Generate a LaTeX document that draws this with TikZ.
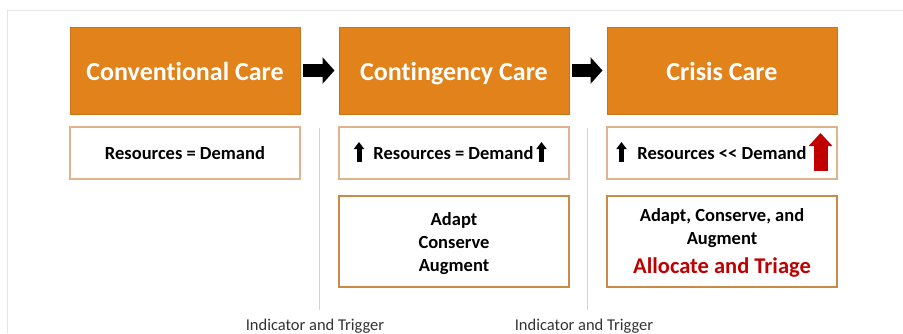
\documentclass[tikz,border=0pt]{standalone}
\usepackage{fontspec}
\setmainfont{Carlito}[Ligatures=NoCommon]
\usetikzlibrary{arrows.meta}
\usetikzlibrary{positioning}
\definecolor{careorange}{HTML}{E2821A}
\definecolor{careedge}{HTML}{C9741A}
\definecolor{tanedge}{HTML}{DDB48C}
\definecolor{boxedge}{HTML}{C98A45}
\definecolor{triggerline}{HTML}{F6CBA4}
\definecolor{frameline}{HTML}{E4E4E4}
\definecolor{alarmred}{HTML}{C00000}

\begin{document}
\begin{tikzpicture}[x=1pt,y=-1pt,
  stage/.style={draw=careedge, fill=careorange, line width=1pt, minimum width=230pt, minimum height=87pt,
    inner sep=0pt, text height=19pt, text depth=0pt, text=white, font=\fontsize{26}{30}\selectfont\bfseries},
  balance/.style={draw=tanedge, line width=1.4pt, fill=white, minimum width=230pt, minimum height=52pt, inner sep=0pt},
  actions/.style={draw=boxedge, line width=1.1pt, fill=white, minimum width=230pt, minimum height=91pt, inner sep=0pt},
  boxtext/.style={font=\fontsize{18.5}{23}\selectfont\bfseries, align=center, inner sep=0pt},
  flow/.style={line width=13pt, black, shorten <=2pt, shorten >=4pt, -{Triangle[width=26pt,length=12pt]}},
  thickup/.style={line width=5pt, black, -{Triangle[width=10pt,length=7pt]}},
  trigger/.style={font=\fontsize{16.5}{19}\selectfont, text=black!80, inner sep=0pt, anchor=base}
]
\useasboundingbox (0,0) rectangle (903,333);
% page frame
\draw[frameline, line width=1pt] (7,333) -- (7,10) -- (903,10);

% top row
\node[stage] (conv) at (185,70.5) {Conventional Care};
\node[stage] (cont) at (454,70.5) {Contingency Care};
\node[stage] (crisis) at (722,70.5) {Crisis Care};

\draw[flow] (conv) -- (cont);
\draw[flow] (cont) -- (crisis);

% resources vs demand
\node[balance] (bal1) at (185,153) {};
\node[balance] (bal2) at (454,153) {};
\node[balance] (bal3) at (722,153) {};

\node[boxtext] (res1) at (185,153.5) {Resources = Demand};
\node[boxtext] (res2) at (453.5,153.5) {Resources = Demand};
\node[boxtext] (res3) at (722,153.5) {Resources <\kern0pt< Demand};

\coordinate (up2a-s) at (359,162);   \coordinate (up2a-e) at (359,142);
\coordinate (up2b-s) at (541.5,162); \coordinate (up2b-e) at (541.5,142);
\coordinate (up3a-s) at (621.5,162); \coordinate (up3a-e) at (621.5,142);
\coordinate (up3b-s) at (820.5,171); \coordinate (up3b-e) at (820.5,133);
\draw[thickup] (up2a-s) -- (up2a-e);
\draw[thickup] (up2b-s) -- (up2b-e);
\draw[thickup] (up3a-s) -- (up3a-e);
\draw[thickup, alarmred, line width=14pt, -{Triangle[width=23pt,length=13pt]}] (up3b-s) -- (up3b-e);

% strategies
\node[actions] (act2) at (454,241.5) {};
\node[actions] (act3) at (722,241.5) {};
\node[boxtext] (adapt2) at (454,243.5) {Adapt\\Conserve\\Augment};
\node[boxtext] (adapt3) at (722,228) {Adapt, Conserve, and\\Augment};
\node[boxtext, text=alarmred, font=\fontsize{22.5}{26}\selectfont\bfseries] (triage) at (722,267.5) {Allocate and Triage};

% triggers
\coordinate (trig1top) at (319,128);
\coordinate (trig1bot) at (319,310);
\coordinate (trig2top) at (587,128);
\coordinate (trig2bot) at (587,310);
\draw[triggerline, line width=1pt] (trig1top) -- (trig1bot);
\draw[triggerline, line width=1pt] (trig2top) -- (trig2bot);
\node[trigger] (ind1) at (315,330) {Indicator and Trigger};
\node[trigger] (ind2) at (584,330) {Indicator and Trigger};
\end{tikzpicture}
\end{document}
